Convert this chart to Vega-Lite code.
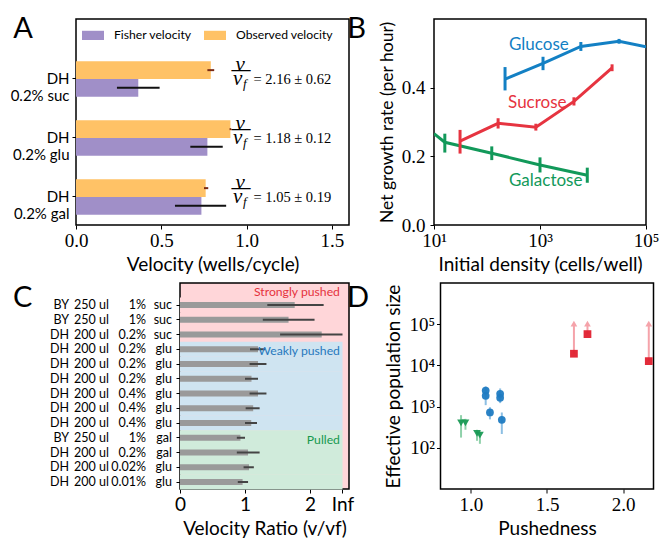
{
  "$schema": "https://vega.github.io/schema/vega-lite/v6.json",
  "background": "white",
  "padding": {"left": 9, "top": 14, "right": 0, "bottom": 0},
  "config": {
    "view": {"stroke": "black", "strokeWidth": 1.5},
    "axis": {"grid": false, "domain": false, "ticks": true, "tickColor": "black", "tickSize": 4, "tickWidth": 1, "labelFlush": false,
             "labelFont": "Liberation Serif", "labelFontSize": 19, "labelColor": "black", "labelPadding": 2,
             "titleFont": "Lato", "titleFontSize": 19, "titleFontWeight": "normal", "titleColor": "black", "titlePadding": 5},
    "title": {"font": "Lato", "fontSize": 29, "fontWeight": "normal", "anchor": "start", "frame": "bounds", "offset": 0, "color": "black"},
    "text": {"font": "Lato"},
    "scale": {"nice": false}
  },
  "resolve": {"scale": {"color": "independent", "stroke": "independent", "fill": "independent", "shape": "independent"},
              "legend": {"color": "independent", "stroke": "independent", "fill": "independent", "shape": "independent"}},
  "datasets": {
    "velA": [
      {"sugar": "suc", "kind": "Observed velocity", "v": 0.79, "lo": 0.77, "hi": 0.81},
      {"sugar": "suc", "kind": "Fisher velocity", "v": 0.365, "lo": 0.24, "hi": 0.49},
      {"sugar": "glu", "kind": "Observed velocity", "v": 0.905, "lo": 0.9, "hi": 0.91},
      {"sugar": "glu", "kind": "Fisher velocity", "v": 0.77, "lo": 0.67, "hi": 0.86},
      {"sugar": "gal", "kind": "Observed velocity", "v": 0.76, "lo": 0.75, "hi": 0.775},
      {"sugar": "gal", "kind": "Fisher velocity", "v": 0.735, "lo": 0.58, "hi": 0.88}
    ],
    "ratioA": [
      {"sugar": "suc", "eq": "= 2.16 ± 0.62"},
      {"sugar": "glu", "eq": "= 1.18 ± 0.12"},
      {"sugar": "gal", "eq": "= 1.05 ± 0.19"}
    ],
    "growthB": [
      {"sugar": "Glucose", "n": 219, "r": 0.425, "lo": 0.392, "hi": 0.46},
      {"sugar": "Glucose", "n": 1140, "r": 0.471, "lo": 0.451, "hi": 0.49},
      {"sugar": "Glucose", "n": 5900, "r": 0.52, "lo": 0.507, "hi": 0.533},
      {"sugar": "Glucose", "n": 31000, "r": 0.535, "lo": 0.528, "hi": 0.542},
      {"sugar": "Glucose", "n": 100000, "r": 0.519, "lo": null, "hi": null},
      {"sugar": "Sucrose", "n": 31, "r": 0.244, "lo": 0.208, "hi": 0.277},
      {"sugar": "Sucrose", "n": 162, "r": 0.296, "lo": 0.281, "hi": 0.311},
      {"sugar": "Sucrose", "n": 835, "r": 0.285, "lo": 0.275, "hi": 0.295},
      {"sugar": "Sucrose", "n": 4370, "r": 0.36, "lo": 0.348, "hi": 0.372},
      {"sugar": "Sucrose", "n": 22900, "r": 0.458, "lo": 0.448, "hi": 0.468},
      {"sugar": "Galactose", "n": 10, "r": 0.266, "lo": null, "hi": null},
      {"sugar": "Galactose", "n": 16, "r": 0.241, "lo": 0.211, "hi": 0.266},
      {"sugar": "Galactose", "n": 123, "r": 0.209, "lo": 0.189, "hi": 0.229},
      {"sugar": "Galactose", "n": 1000, "r": 0.175, "lo": 0.153, "hi": 0.197},
      {"sugar": "Galactose", "n": 7800, "r": 0.145, "lo": 0.123, "hi": 0.167}
    ],
    "labelsB": [
      {"sugar": "Glucose", "n": 260, "r": 0.523},
      {"sugar": "Sucrose", "n": 250, "r": 0.356},
      {"sugar": "Galactose", "n": 260, "r": 0.129}
    ],
    "rowsC": [
      {"row": 1, "strain": "BY", "vol": "250 ul", "conc": "1%", "carbon": "suc", "ratio": 1.765, "lo": 1.343, "hi": 2.21, "regime": "Strongly pushed"},
      {"row": 2, "strain": "BY", "vol": "250 ul", "conc": "1%", "carbon": "suc", "ratio": 1.67, "lo": 1.274, "hi": 2.07, "regime": "Strongly pushed"},
      {"row": 3, "strain": "DH", "vol": "200 ul", "conc": "0.2%", "carbon": "suc", "ratio": 2.18, "lo": 1.54, "hi": 2.5, "regime": "Strongly pushed"},
      {"row": 4, "strain": "DH", "vol": "200 ul", "conc": "0.2%", "carbon": "glu", "ratio": 1.2, "lo": 1.077, "hi": 1.31, "regime": "Weakly pushed"},
      {"row": 5, "strain": "DH", "vol": "200 ul", "conc": "0.2%", "carbon": "glu", "ratio": 1.2, "lo": 1.07, "hi": 1.33, "regime": "Weakly pushed"},
      {"row": 6, "strain": "DH", "vol": "200 ul", "conc": "0.2%", "carbon": "glu", "ratio": 1.1, "lo": 1.0, "hi": 1.2, "regime": "Weakly pushed"},
      {"row": 7, "strain": "DH", "vol": "200 ul", "conc": "0.4%", "carbon": "glu", "ratio": 1.2, "lo": 1.07, "hi": 1.33, "regime": "Weakly pushed"},
      {"row": 8, "strain": "DH", "vol": "200 ul", "conc": "0.4%", "carbon": "glu", "ratio": 1.126, "lo": 1.01, "hi": 1.225, "regime": "Weakly pushed"},
      {"row": 9, "strain": "DH", "vol": "200 ul", "conc": "0.4%", "carbon": "glu", "ratio": 1.096, "lo": 1.0, "hi": 1.185, "regime": "Weakly pushed"},
      {"row": 10, "strain": "BY", "vol": "250 ul", "conc": "1%", "carbon": "gal", "ratio": 0.93, "lo": 0.874, "hi": 1.0, "regime": "Pulled"},
      {"row": 11, "strain": "DH", "vol": "200 ul", "conc": "0.2%", "carbon": "gal", "ratio": 1.047, "lo": 0.874, "hi": 1.225, "regime": "Pulled"},
      {"row": 12, "strain": "DH", "vol": "200 ul", "conc": "0.02%", "carbon": "glu", "ratio": 1.062, "lo": 0.978, "hi": 1.136, "regime": "Pulled"},
      {"row": 13, "strain": "DH", "vol": "200 ul", "conc": "0.01%", "carbon": "glu", "ratio": 0.963, "lo": 0.889, "hi": 1.047, "regime": "Pulled"}
    ],
    "regimeC": [
      {"row": 4, "regime": "Weakly pushed"},
      {"row": 10, "regime": "Pulled"}
    ],
    "regimeTopC": [
      {"row": 1, "regime": "Strongly pushed"}
    ],
    "ptsD": [
      {"group": "Pulled", "x": 0.935, "y": 402, "lo": 177, "hi": 620},
      {"group": "Pulled", "x": 0.964, "y": 402, "lo": 274, "hi": 505},
      {"group": "Pulled", "x": 1.04, "y": 224, "lo": 148, "hi": 274},
      {"group": "Pulled", "x": 1.059, "y": 204, "lo": 125, "hi": 251},
      {"group": "Weakly pushed", "x": 1.097, "y": 2450, "lo": 1800, "hi": 3100},
      {"group": "Weakly pushed", "x": 1.097, "y": 1830, "lo": 1085, "hi": 2500},
      {"group": "Weakly pushed", "x": 1.125, "y": 720, "lo": 490, "hi": 967},
      {"group": "Weakly pushed", "x": 1.192, "y": 2050, "lo": 1500, "hi": 2760},
      {"group": "Weakly pushed", "x": 1.192, "y": 1630, "lo": 1215, "hi": 2200},
      {"group": "Weakly pushed", "x": 1.203, "y": 477, "lo": 216, "hi": 720},
      {"group": "Strongly pushed", "x": 1.677, "y": 19200, "lo": null, "hi": null},
      {"group": "Strongly pushed", "x": 1.766, "y": 57500, "lo": null, "hi": null},
      {"group": "Strongly pushed", "x": 2.169, "y": 12700, "lo": null, "hi": null}
    ]
  },
  "spacing": 7,
  "vconcat": [
    {
      "spacing": -4,
      "resolve": {"scale": {"color": "independent", "stroke": "independent", "fill": "independent", "shape": "independent"},
                  "legend": {"color": "independent", "stroke": "independent", "fill": "independent", "shape": "independent"}},
      "hconcat": [
        {
          "width": 273, "height": 206,
          "title": {"text": "A", "dy": 29, "dx": 3},
          "layer": [
            {
              "data": {"name": "velA"},
              "mark": {"type": "bar"},
              "encoding": {
                "y": {"field": "sugar", "type": "nominal",
                      "scale": {"domain": ["suc", "glu", "gal"], "paddingInner": 0.4, "paddingOuter": 0.4458, "align": 0.804},
                      "axis": {"title": null, "labelExpr": "['DH', '0.2% ' + datum.value]", "labelFont": "Lato", "labelFontSize": 15, "labelLineHeight": 17, "labelPadding": 3}},
                "yOffset": {"field": "kind", "type": "nominal", "scale": {"domain": ["Observed velocity", "Fisher velocity"]}},
                "x": {"field": "v", "type": "quantitative", "scale": {"domain": [0, 1.5]},
                      "axis": {"values": [0, 0.5, 1, 1.5], "format": ".1f", "title": "Velocity (wells/cycle)"}},
                "color": {"field": "kind", "type": "nominal",
                          "scale": {"domain": ["Fisher velocity", "Observed velocity"], "range": ["#a08fc8", "#ffc266"]},
                          "legend": {"orient": "none", "legendX": 6, "legendY": 5, "direction": "horizontal", "title": null,
                                     "symbolType": "M-1,-0.42H1V0.42H-1Z", "symbolSize": 484, "symbolStrokeWidth": 0,
                                     "labelFont": "Lato", "labelFontSize": 12.2, "labelColor": "black", "labelOffset": 10, "columnPadding": 12}}
              }
            },
            {
              "data": {"name": "velA"},
              "mark": {"type": "rule", "strokeWidth": 2},
              "encoding": {
                "y": {"field": "sugar", "type": "nominal"},
                "yOffset": {"field": "kind", "type": "nominal"},
                "x": {"field": "lo", "type": "quantitative"},
                "x2": {"field": "hi"},
                "stroke": {"field": "kind", "type": "nominal", "scale": {"domain": ["Fisher velocity", "Observed velocity"], "range": ["#111111", "#7a2a14"]}, "legend": null}
              }
            },
            {
              "data": {"name": "ratioA"},
              "mark": {"type": "text", "font": "Liberation Serif", "fontSize": 14.5, "align": "left", "baseline": "middle", "dy": 1},
              "encoding": {"y": {"field": "sugar", "type": "nominal"}, "x": {"datum": 1.04}, "text": {"field": "eq"}}
            },
            {
              "data": {"name": "ratioA"},
              "mark": {"type": "text", "font": "Liberation Serif", "fontSize": 21, "fontStyle": "italic", "align": "center", "baseline": "middle", "dy": -14},
              "encoding": {"y": {"field": "sugar", "type": "nominal"}, "x": {"datum": 0.962}, "text": {"value": "v"}}
            },
            {
              "data": {"name": "ratioA"},
              "mark": {"type": "text", "font": "Liberation Serif", "fontSize": 19, "fontWeight": "bold", "align": "center", "baseline": "middle", "dy": -10},
              "encoding": {"y": {"field": "sugar", "type": "nominal"}, "x": {"datum": 0.967}, "text": {"value": "—"}}
            },
            {
              "data": {"name": "ratioA"},
              "mark": {"type": "text", "font": "Liberation Serif", "fontSize": 21, "fontStyle": "italic", "align": "center", "baseline": "middle", "dy": 0},
              "encoding": {"y": {"field": "sugar", "type": "nominal"}, "x": {"datum": 0.948}, "text": {"value": "v"}}
            },
            {
              "data": {"name": "ratioA"},
              "mark": {"type": "text", "font": "Liberation Serif", "fontSize": 13, "fontStyle": "italic", "align": "center", "baseline": "middle", "dy": 5},
              "encoding": {"y": {"field": "sugar", "type": "nominal"}, "x": {"datum": 0.99}, "text": {"value": "f"}}
            }
          ]
        },
        {
          "width": 212, "height": 206,
          "title": {"text": "B", "dy": 29, "dx": -31},
          "layer": [
            {
              "data": {"name": "growthB"},
              "mark": {"type": "line", "strokeWidth": 3, "clip": true},
              "encoding": {
                "x": {"field": "n", "type": "quantitative", "scale": {"type": "log", "domain": [10, 100000]},
                      "axis": {"values": [10, 1000, 100000], "labelExpr": "datum.value == 10 ? '10¹' : datum.value == 1000 ? '10³' : '10⁵'", "title": "Initial density (cells/well)"}},
                "y": {"field": "r", "type": "quantitative", "scale": {"domain": [0, 0.565]},
                      "axis": {"values": [0, 0.2, 0.4], "format": ".1f", "title": "Net growth rate (per hour)", "titleFontSize": 17.5, "labelPadding": 5}},
                "color": {"field": "sugar", "type": "nominal",
                          "scale": {"domain": ["Glucose", "Sucrose", "Galactose"], "range": ["#1380c4", "#e63440", "#12995a"]}, "legend": null}
              }
            },
            {
              "data": {"name": "growthB"},
              "mark": {"type": "rule", "strokeWidth": 3, "clip": true},
              "encoding": {
                "x": {"field": "n", "type": "quantitative"},
                "y": {"field": "lo", "type": "quantitative"},
                "y2": {"field": "hi"},
                "color": {"field": "sugar", "type": "nominal"}
              }
            },
            {
              "data": {"name": "labelsB"},
              "mark": {"type": "text", "fontSize": 17, "align": "left", "baseline": "middle"},
              "encoding": {
                "x": {"field": "n", "type": "quantitative"},
                "y": {"field": "r", "type": "quantitative"},
                "text": {"field": "sugar"},
                "color": {"field": "sugar", "type": "nominal"}
              }
            }
          ]
        }
      ]
    },
    {
      "spacing": -9.5,
      "resolve": {"scale": {"color": "independent", "stroke": "independent", "fill": "independent", "shape": "independent"},
                  "legend": {"color": "independent", "stroke": "independent", "fill": "independent", "shape": "independent"}},
      "hconcat": [
        {
          "width": 104, "height": 206,
          "title": {"text": "C", "dy": 34, "dx": -37},
          "view": {"stroke": null},
          "data": {"name": "rowsC"},
          "encoding": {
            "y": {"field": "row", "type": "ordinal", "scale": {"type": "band", "paddingInner": 0.6, "paddingOuter": 0.783, "align": 0.825}, "axis": null}
          },
          "layer": [
            {
              "mark": {"type": "text", "align": "right", "baseline": "middle", "fontSize": 12.5},
              "encoding": {"x": {"datum": -0.067, "type": "quantitative", "scale": {"domain": [0, 1]}, "axis": null}, "text": {"field": "strain"}}
            },
            {
              "mark": {"type": "text", "align": "right", "baseline": "middle", "fontSize": 12.5},
              "encoding": {"x": {"datum": 0.317, "type": "quantitative"}, "text": {"field": "vol"}}
            },
            {
              "mark": {"type": "text", "align": "right", "baseline": "middle", "fontSize": 12.5},
              "encoding": {"x": {"datum": 0.673, "type": "quantitative"}, "text": {"field": "conc"}}
            },
            {
              "mark": {"type": "text", "align": "right", "baseline": "middle", "fontSize": 12.5},
              "encoding": {"x": {"datum": 0.923, "type": "quantitative"}, "text": {"field": "carbon"}}
            }
          ]
        },
        {
          "width": 169, "height": 206,
          "view": {"fill": "#ffd6d9", "stroke": "black", "strokeWidth": 1.5},
          "layer": [
            {
              "data": {"name": "rowsC"},
              "mark": {"type": "bar", "height": {"band": 2.52}},
              "encoding": {
                "y": {"field": "row", "type": "ordinal",
                      "scale": {"type": "band", "paddingInner": 0.6, "paddingOuter": 0.783, "align": 0.825},
                      "axis": {"title": null, "labels": false, "ticks": true}},
                "x": {"datum": 0, "type": "quantitative", "scale": {"domain": [0, 2.5]},
                      "axis": {"values": [0, 1, 2, 2.5], "labelFont": "Lato", "labelFontSize": 19,
                               "labelExpr": "datum.value == 2.5 ? 'Inf' : format(datum.value, 'd')", "title": "Velocity Ratio (v/vf)"}},
                "x2": {"datum": 2.5},
                "fill": {"field": "regime", "type": "nominal",
                         "scale": {"domain": ["Strongly pushed", "Weakly pushed", "Pulled"], "range": ["#ffd6d9", "#cfe4f1", "#d0ebdb"]}, "legend": null}
              }
            },
            {
              "data": {"name": "rowsC"},
              "mark": {"type": "bar", "color": "#9a9a9a"},
              "encoding": {
                "y": {"field": "row", "type": "ordinal"},
                "x": {"field": "ratio", "type": "quantitative"}
              }
            },
            {
              "data": {"name": "rowsC"},
              "mark": {"type": "rule", "color": "#444444", "strokeWidth": 2, "clip": true},
              "encoding": {
                "y": {"field": "row", "type": "ordinal"},
                "x": {"field": "lo", "type": "quantitative"},
                "x2": {"field": "hi"}
              }
            },
            {
              "mark": {"type": "rule", "color": "#555555", "strokeWidth": 1},
              "encoding": {"x": {"datum": 1}}
            },
            {
              "data": {"name": "regimeTopC"},
              "mark": {"type": "text", "fontSize": 12.2, "align": "right", "baseline": "middle", "dy": -13},
              "encoding": {
                "y": {"field": "row", "type": "ordinal"},
                "x": {"datum": 2.46},
                "text": {"field": "regime"},
                "color": {"field": "regime", "type": "nominal",
                          "scale": {"domain": ["Strongly pushed", "Weakly pushed", "Pulled"], "range": ["#e5323d", "#2878bd", "#16994f"]}, "legend": null}
              }
            },
            {
              "data": {"name": "regimeC"},
              "mark": {"type": "text", "fontSize": 12.2, "align": "right", "baseline": "middle", "dy": 2},
              "encoding": {
                "y": {"field": "row", "type": "ordinal"},
                "x": {"datum": 2.46},
                "text": {"field": "regime"},
                "color": {"field": "regime", "type": "nominal"}
              }
            }
          ]
        },
        {
          "width": 213, "height": 206,
          "title": {"text": "D", "dy": 34, "dx": -38},
          "layer": [
            {
              "data": {"name": "ptsD"},
              "mark": {"type": "rule", "strokeWidth": 2},
              "encoding": {
                "x": {"field": "x", "type": "quantitative", "scale": {"domain": [0.855, 2.2]},
                      "axis": {"values": [1, 1.5, 2], "format": ".1f", "title": "Pushedness"}},
                "y": {"field": "lo", "type": "quantitative", "scale": {"type": "log", "domain": [93, 128000]},
                      "axis": {"values": [100, 1000, 10000, 100000], "labelExpr": "datum.value == 100 ? '10²' : datum.value == 1000 ? '10³' : datum.value == 10000 ? '10⁴' : '10⁵'", "title": "Effective population size"}},
                "y2": {"field": "hi"},
                "stroke": {"field": "group", "type": "nominal",
                           "scale": {"domain": ["Pulled", "Weakly pushed", "Strongly pushed"], "range": ["#8fd1aa", "#8dbfe3", "#f5a3aa"]}, "legend": null}
              }
            },
            {
              "data": {"name": "ptsD"},
              "transform": [{"filter": "datum.group == 'Strongly pushed'"}],
              "mark": {"type": "rule", "strokeWidth": 2, "color": "#f5a3aa"},
              "encoding": {
                "x": {"field": "x", "type": "quantitative"},
                "y": {"field": "y", "type": "quantitative"},
                "y2": {"datum": 100000}
              }
            },
            {
              "data": {"name": "ptsD"},
              "transform": [{"filter": "datum.group == 'Strongly pushed'"}],
              "mark": {"type": "point", "shape": "triangle-up", "filled": true, "size": 45, "color": "#f5a3aa", "opacity": 1},
              "encoding": {
                "x": {"field": "x", "type": "quantitative"},
                "y": {"datum": 103000}
              }
            },
            {
              "data": {"name": "ptsD"},
              "mark": {"type": "point", "filled": true, "size": 60, "opacity": 0.95},
              "encoding": {
                "x": {"field": "x", "type": "quantitative"},
                "y": {"field": "y", "type": "quantitative"},
                "shape": {"field": "group", "type": "nominal",
                          "scale": {"domain": ["Pulled", "Weakly pushed", "Strongly pushed"], "range": ["triangle-down", "circle", "square"]}, "legend": null},
                "color": {"field": "group", "type": "nominal",
                          "scale": {"domain": ["Pulled", "Weakly pushed", "Strongly pushed"], "range": ["#1a9a55", "#1f7bc2", "#e0202f"]}, "legend": null}
              }
            }
          ]
        }
      ]
    }
  ]
}
